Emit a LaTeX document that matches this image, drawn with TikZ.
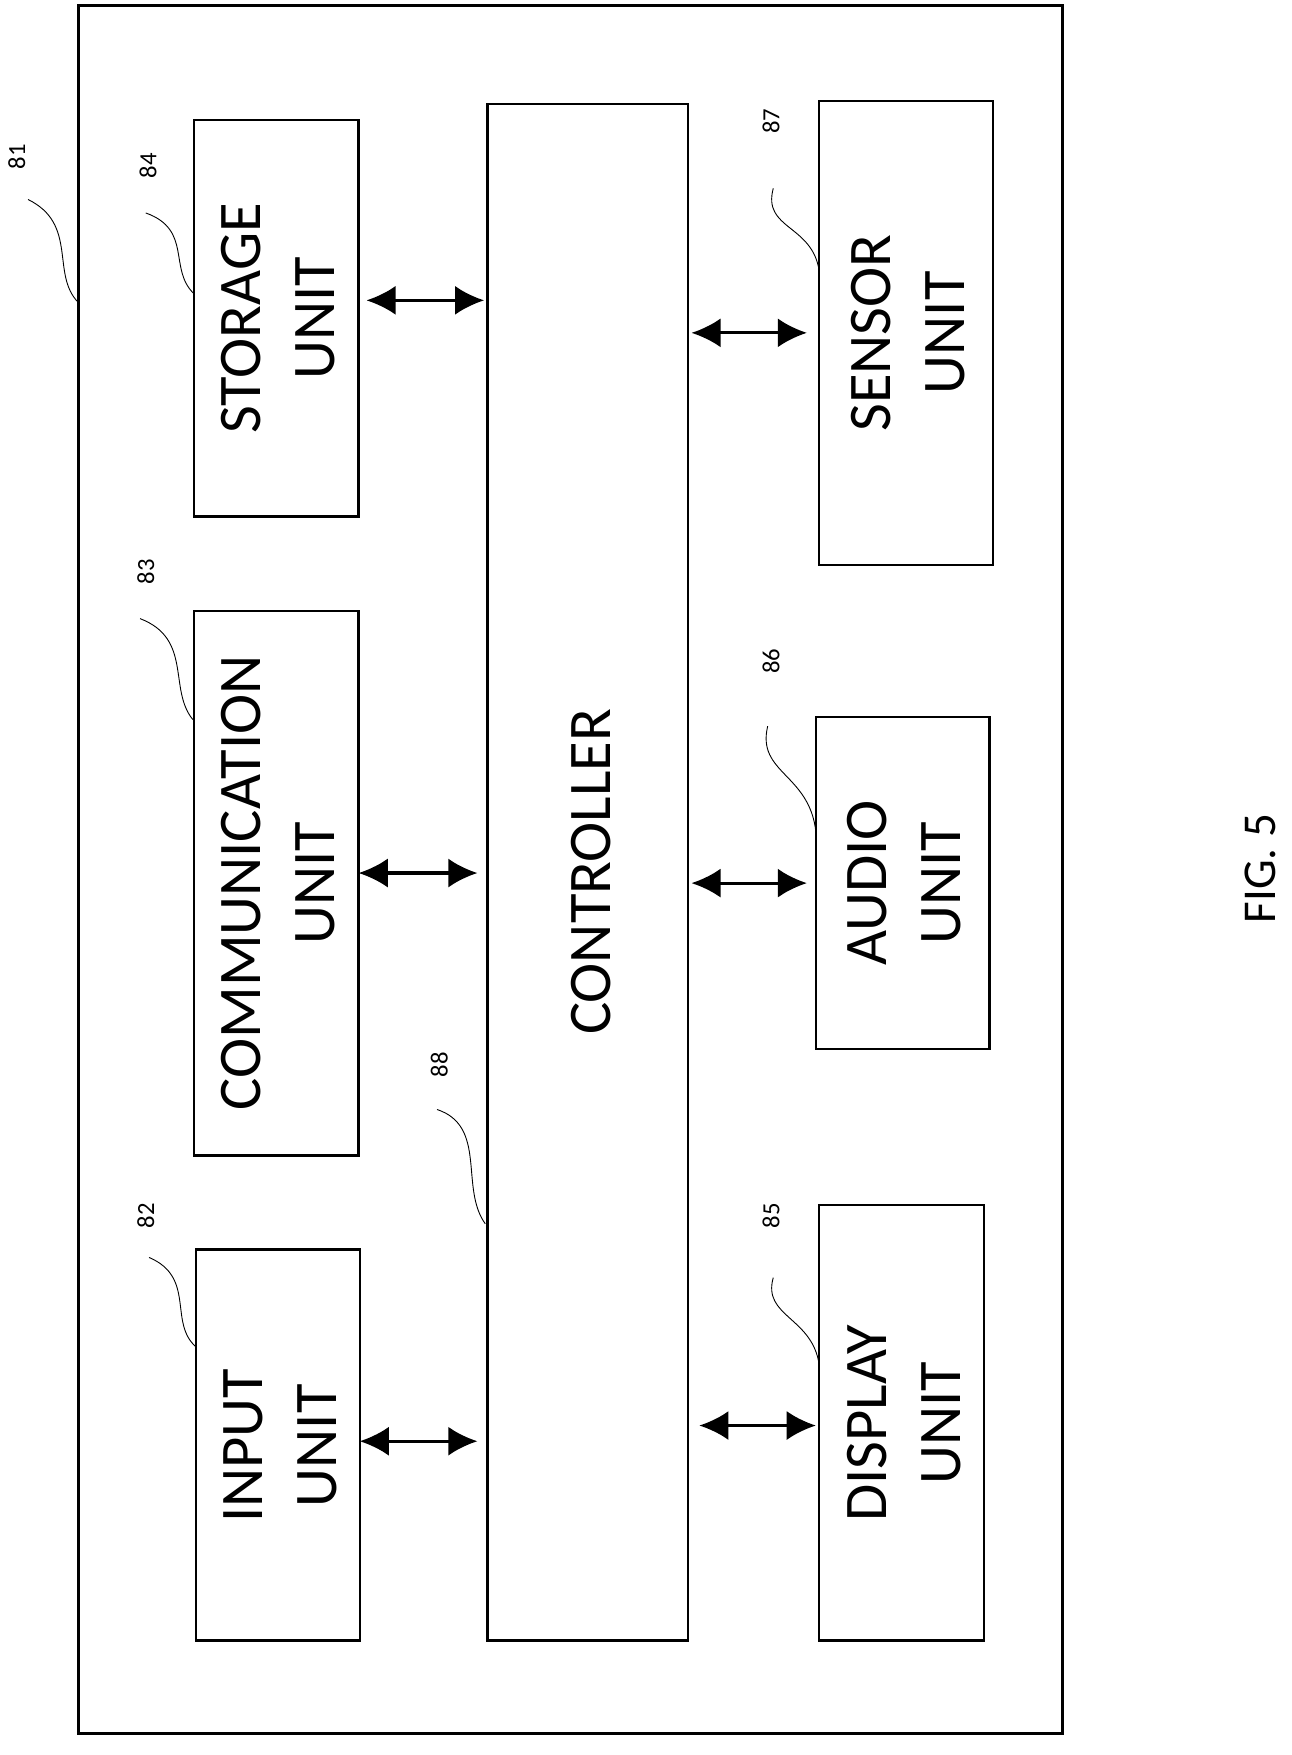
\documentclass[tikz,border=0pt]{standalone}
\usepackage{fontspec}
\setmainfont{Carlito}
\usetikzlibrary{arrows.meta}
\begin{document}
\begin{tikzpicture}[x=1pt,y=-1pt,
  box/.style={draw,line width=2.2pt},
  txt/.style={rotate=90,align=center,font=\fontsize{54}{66}\selectfont},
  lab/.style={rotate=90,font=\fontsize{22}{22}\selectfont},
  ar/.style={{Latex[length=26pt,width=26pt]}-{Latex[length=26pt,width=26pt]},line width=2.8pt},
  ld/.style={line width=0.8pt}]
\useasboundingbox (0,0) rectangle (1152,1566);
\draw[box] (70,5) rectangle (948,1547);
\draw[box] (173,107) rectangle (320,461); \node[txt] (st) at (248,284) {STORAGE\\UNIT};
\draw[box] (173,545) rectangle (320,1031); \node[txt] (cm) at (248,788) {COMMUNICATION\\UNIT};
\draw[box] (175,1115) rectangle (321,1464); \node[txt] (in) at (250,1290) {INPUT\\UNIT};
\draw[box] (435,93) rectangle (614,1464); \node[txt] (co) at (527,778) {CONTROLLER};
\draw[box] (731,90) rectangle (886,504); \node[txt] (se) at (810,297) {SENSOR\\UNIT};
\draw[box] (728,640) rectangle (883,936); \node[txt] (au) at (807,788) {AUDIO\\UNIT};
\draw[box] (731,1075) rectangle (878,1464); \node[txt] (di) at (807,1270) {DISPLAY\\UNIT};
\coordinate (a1) at (327,268); \coordinate (b1) at (432,268);
\coordinate (a2) at (320,779); \coordinate (b2) at (426,779);
\coordinate (a3) at (321,1286); \coordinate (b3) at (426,1286);
\coordinate (a4) at (617,297); \coordinate (b4) at (720,297);
\coordinate (a5) at (617,788); \coordinate (b5) at (720,788);
\coordinate (a6) at (624,1272); \coordinate (b6) at (728,1272);
\foreach \i in {1,...,6} \draw[ar] (a\i) -- (b\i);
\node[lab] (l81) at (15,140) {81};
\draw[ld] (25,178) .. controls (70,200) and (45,245) .. (70,270);
\node[lab] (l84) at (132,148) {84};
\draw[ld] (130,190) .. controls (172,205) and (150,240) .. (173,262);
\node[lab] (l83) at (130,510) {83};
\draw[ld] (125,552) .. controls (172,570) and (150,615) .. (172,642);
\node[lab] (l82) at (130,1085) {82};
\draw[ld] (133,1122) .. controls (175,1140) and (150,1180) .. (175,1202);
\node[lab] (l88) at (392,950) {88};
\draw[ld] (390,990) .. controls (435,1005) and (410,1060) .. (433,1092);
\node[lab] (l87) at (688,108) {87};
\draw[ld] (690,168) .. controls (680,205) and (725,200) .. (731,242);
\node[lab] (l86) at (688,590) {86};
\draw[ld] (685,648) .. controls (675,690) and (722,690) .. (728,742);
\node[lab] (l85) at (688,1085) {85};
\draw[ld] (690,1140) .. controls (680,1175) and (725,1175) .. (731,1218);
\node[rotate=90,font=\fontsize{42}{42}\selectfont] (fig) at (1125,775) {FIG. 5};
\end{tikzpicture}
\end{document}
